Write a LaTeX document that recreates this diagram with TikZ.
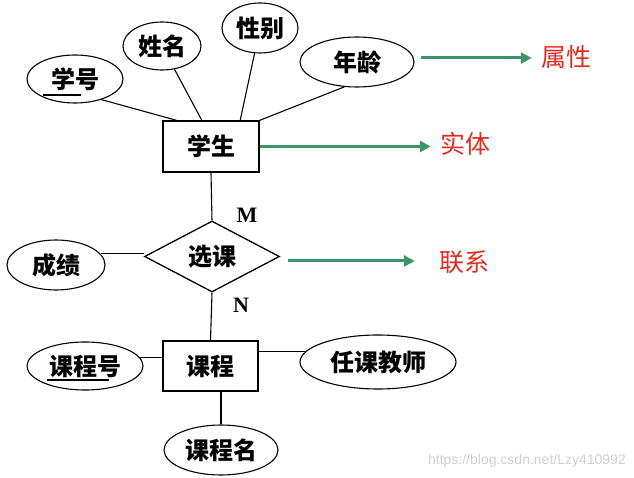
\documentclass[tikz,border=0pt]{standalone}
\usepackage{fontspec}
\setmainfont{Liberation Serif}
\newfontfamily\cjk{Noto Sans CJK SC}
\newfontfamily\wm{Liberation Sans}
\usetikzlibrary{shapes.geometric,arrows.meta,calc}
\definecolor{arrgreen}{RGB}{58,150,104}
\definecolor{lblred}{RGB}{228,42,32}
\definecolor{wmgray}{RGB}{208,208,208}
\tikzset{
  attr/.style={ellipse, draw, line width=1.1pt, inner sep=0pt, font=\cjk\bfseries\fontsize{24}{26}\selectfont},
  entity/.style={rectangle, draw, line width=1.3pt, inner sep=0pt, font=\cjk\bfseries\fontsize{24}{26}\selectfont},
  rel/.style={diamond, draw, line width=1.3pt, inner sep=0pt, font=\cjk\bfseries\fontsize{24}{26}\selectfont},
  conn/.style={line width=1.1pt},
  garrow/.style={draw=arrgreen, line width=3pt, -{Triangle[length=11pt,width=11pt]}},
  redlbl/.style={inner sep=0pt, text=lblred, font=\cjk\fontsize{25}{27}\selectfont},
  card/.style={inner sep=0pt, font=\bfseries\fontsize{22}{24}\selectfont}
}
\begin{document}
\begin{tikzpicture}[x=1pt,y=-1pt]
\useasboundingbox (0,0) rectangle (634,478);
% entities
\node[entity, minimum width=96pt, minimum height=51pt] (xs) at (211,146.5) {学生};
\node[entity, minimum width=95pt, minimum height=50pt] (kc) at (210.5,366) {课程};
% relationship
\node[rel, minimum width=135pt, minimum height=67pt] (xk) at (212,256.5) {选课};
% attributes
\node[attr, minimum width=96pt, minimum height=48pt] (xh) at (75,79) {学号};
\node[attr, minimum width=78pt, minimum height=48pt] (xm) at (162,46) {姓名};
\node[attr, minimum width=76pt, minimum height=50pt] (xb) at (260,28) {性别};
\node[attr, minimum width=114pt, minimum height=50pt] (nl) at (357,62) {年龄};
\node[attr, minimum width=98pt, minimum height=50pt] (cj) at (56,265) {成绩};
\node[attr, minimum width=116pt, minimum height=48pt] (kh) at (85,366) {课程号};
\node[attr, minimum width=156pt, minimum height=54pt] (rt) at (378,362) {任课教师};
\node[attr, minimum width=114pt, minimum height=50pt] (km) at (221,450) {课程名};
% underlines of keys
\draw[conn] ($(xh)+(-32,16)$) -- ($(xh)+(6,16)$);
\draw[conn] ($(kh)+(-38,14)$) -- ($(kh)+(24,14)$);
% attribute connectors to 学生
\coordinate (p1) at ($(xs.north west)!0.146!(xs.north east)$);
\coordinate (p2) at ($(xs.north west)!0.406!(xs.north east)$);
\coordinate (p3) at ($(xs.north west)!0.80!(xs.north east)$);
\draw[conn] (xh.322) -- (p1);
\draw[conn] (xm) -- (p2);
\draw[conn] (xb) -- (p3);
\draw[conn] (nl.243) -- (xs.north east);
% relationship connectors
\draw[conn] (xs.south) -- (xk.north);
\draw[conn] (xk.south) -- (kc.north);
\draw[conn] (cj.14) -- (cj.14 -| xk.west);
% course attributes
\draw[conn] (kh.9) -- (kh.9 -| kc.west);
\draw[conn] (rt.172) -- (rt.172 -| kc.east);
\coordinate (p4) at ($(kc.south)+(10.5,0)$);
\draw[conn] (p4) -- (p4 |- km.north);
% cardinalities
\node[card] (m) at (247,215) {M};
\node[card] (n) at (241,305) {N};
% legend labels
\node[redlbl] (sx) at (566,57) {属性};
\node[redlbl] (st) at (465,144) {实体};
\node[redlbl] (lx) at (464,262) {联系};
% legend arrows
\coordinate (a1) at (421,58);
\draw[garrow, shorten >=9pt] (a1) -- (a1 -| sx.west);
\draw[garrow, shorten >=9pt] (xs.east) -- (xs.east -| st.west);
\coordinate (a3) at (288,261);
\draw[garrow, shorten >=24pt] (a3) -- (a3 -| lx.west);
% watermark
\node[inner sep=0pt, anchor=east, text=wmgray, font=\wm\fontsize{14}{16}\selectfont] (wmk) at (626,461) {https://blog.csdn.net/Lzy410992};
\end{tikzpicture}
\end{document}
